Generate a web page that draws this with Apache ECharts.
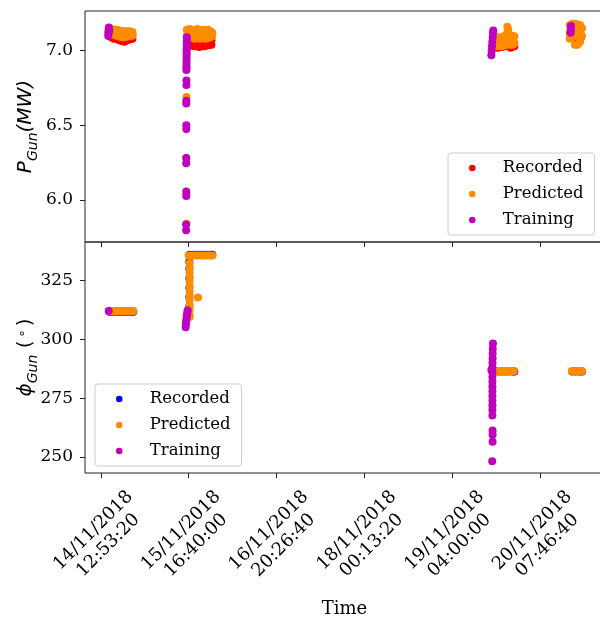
<!DOCTYPE html>
<html>
<head>
<meta charset="utf-8">
<script src="https://cdn.jsdelivr.net/npm/echarts@6/dist/echarts.min.js"></script>
<style>html,body{margin:0;padding:0;background:#fff}#c{width:600px;height:617px}</style>
</head>
<body>
<div id="c"></div>
<script>
// Time axis: kiloseconds after 14/11/2018 12:53:20 (UTC)
const xTickValues = [0, 100, 200, 300, 400, 500];
const xTickLabels = ['14/11/2018\n12:53:20', '15/11/2018\n16:40:00', '16/11/2018\n20:26:40',
                     '18/11/2018\n00:13:20', '19/11/2018\n04:00:00', '20/11/2018\n07:46:40'];
const pTickValues = [6.0, 6.5, 7.0];
const phiTickValues = [250, 275, 300, 325];
const seriesNames = ['Recorded', 'Predicted', 'Training'];

// P_Gun (MW) : [time ks, value]
const pRecorded = [
  [9,7.10],[9,7.13],[12,7.09],[12,7.12],[15,7.08],[15,7.11],[18,7.08],[18,7.12],[21,7.07],[21,7.10],
  [24,7.065],[24,7.10],[27,7.06],[27,7.10],[30,7.07],[30,7.10],[33,7.075],[33,7.11],[36,7.08],[36,7.11],
  [100,7.04],[100,7.07],[103,7.035],[103,7.07],[106,7.03],[106,7.06],[109,7.03],[109,7.07],[112,7.025],[112,7.06],
  [115,7.03],[115,7.065],[118,7.03],[118,7.07],[121,7.035],[121,7.07],[124,7.04],[124,7.075],[126,7.04],[126,7.07],
  [447,7.03],[452,7.02],[457,7.025],[462,7.03],[467,7.02],[471,7.03],[449,7.06],[455,7.06],[460,7.055],[465,7.06],[470,7.06],
  [536,7.10],[540,7.08],[544,7.10],[547,7.09]
];
const pPredicted = [
  [9,7.12],[9,7.145],[12,7.11],[12,7.13],[12,7.145],[15,7.105],[15,7.12],[15,7.14],[18,7.10],[18,7.12],[18,7.14],
  [21,7.095],[21,7.115],[21,7.135],[24,7.09],[24,7.11],[24,7.13],[27,7.09],[27,7.11],[27,7.13],[30,7.095],[30,7.11],[30,7.13],
  [33,7.10],[33,7.115],[33,7.13],[36,7.10],[36,7.125],
  [98,7.10],[98,7.14],[101,7.085],[101,7.115],[101,7.145],[104,7.09],[104,7.115],[104,7.14],[107,7.08],[107,7.11],[107,7.13],
  [110,7.085],[110,7.115],[110,7.145],[113,7.08],[113,7.11],[113,7.13],[116,7.085],[116,7.11],[116,7.14],[119,7.08],[119,7.11],[119,7.135],
  [122,7.085],[122,7.11],[122,7.14],[125,7.09],[125,7.11],[125,7.13],[127,7.10],[127,7.12],
  [97.6,5.84],[97.7,6.04],[97.5,6.28],[97.7,6.69],[97.5,6.88],
  [448,7.04],[448,7.09],[452,7.03],[452,7.06],[452,7.09],[456,7.03],[456,7.06],[456,7.09],[460,7.035],[460,7.07],[460,7.10],
  [463,7.12],[463,7.16],[464,7.14],[466,7.04],[466,7.07],[466,7.10],[469,7.04],[469,7.07],[469,7.10],[471,7.05],[471,7.095],
  [534,7.08],[534,7.12],[534,7.17],[537,7.09],[537,7.13],[537,7.18],[540,7.04],[540,7.10],[540,7.14],[540,7.18],
  [543,7.04],[543,7.11],[543,7.145],[543,7.175],[546,7.06],[546,7.12],[546,7.17],[548,7.10],[548,7.15]
];
const pTraining = [
  [8.5,7.10],[8.7,7.12],[9,7.14],[9.2,7.155],[9.5,7.13],
  [98.0,7.09],[98.0,7.07],[97.9,7.05],[97.9,7.03],[97.8,7.01],[97.8,6.99],[97.7,6.97],[97.7,6.95],[97.6,6.93],[97.6,6.91],[97.6,6.89],[97.5,6.87],
  [97.5,6.80],[97.5,6.77],[97.4,6.665],[97.4,6.645],[97.4,6.50],[97.4,6.475],[97.3,6.28],[97.3,6.245],[97.3,6.055],[97.3,6.025],
  [97.2,5.835],[97.2,5.795],
  [444.8,6.97],[445.1,7.0],[445.5,7.03],[445.9,7.06],[446.3,7.09],[446.7,7.12],[447.0,7.135],
  [535,7.12],[535.3,7.14],[535.5,7.165]
];

// phi_Gun (deg) : [time ks, value]
const phiRecorded = [
  [10,311.7],[14,311.7],[18,311.7],[22,311.7],[26,311.7],[30,311.7],[34,311.7],[37,311.7],
  [101,336.0],[105,336.0],[109,336.0],[113,336.0],[117,336.0],[121,336.0],[125,336.0],[127,336.0],
  [100.8,333.0],[100.8,330.0],[100.8,326.0],[100.8,322.0],[100.8,318.0],[100.8,314.0],
  [449,286.3],[453,286.3],[457,286.3],[461,286.3],[465,286.3],[469,286.3],[471,286.3],
  [537,286.3],[541,286.3],[545,286.3],[548,286.3]
];
const phiPredicted = [
  [10,312.1],[13,312.1],[16,312.1],[19,312.1],[22,312.1],[25,312.1],[28,312.1],[31,312.1],[34,312.1],[37,312.1],
  [100,335.7],[103,335.7],[106,335.7],[109,335.7],[112,335.7],[115,335.7],[118,335.7],[121,335.7],[124,335.7],[127,335.7],
  [101.1,332.5],[101.1,330.5],[101.1,328.5],[101.1,326.5],[101.1,324.5],[101.1,322.5],[101.1,320.5],[101.1,318.5],
  [101.1,316.5],[101.1,314.5],[101.1,312.5],[101.1,310.5],[101.1,309.5],
  [110.7,317.8],
  [450,286.6],[453,286.6],[456,286.6],[459,286.6],[462,286.6],[465,286.6],[468,286.6],[470.5,286.6],
  [536.5,286.6],[539,286.6],[542,286.6],[545,286.6],[548,286.6]
];
const phiTraining = [
  [9.0,312.1],
  [96.6,305.2],[96.9,306.5],[97.2,307.5],[97.5,308.5],[97.8,309.5],[98.2,310.5],[98.6,311.5],[98.9,312.3],
  [444.8,287.0],
  [446.6,298.2],[446.4,296.0],[446.3,294.0],[446.2,292.0],[446.1,290.0],[446.0,288.0],[446.0,286.0],[446.0,284.0],
  [446.0,282.0],[446.0,280.0],[446.0,278.0],[446.0,276.0],[446.0,274.0],[446.0,272.0],[446.0,270.0],[446.0,267.6],
  [446.2,261.3],[446.2,259.5],[446.2,256.5],[445.8,248.2]
];

const colorsP = ['#ff0000', '#ff8c00', '#bf00bf'];
const colorsPhi = ['#0000ff', '#ff8c00', '#bf00bf'];

const FONT = 'DejaVu Serif';
const chart = echarts.init(document.getElementById('c'), null, {renderer: 'canvas'});

function xAxisCfg(gridIndex, showLabels) {
  return {
    type: 'value', gridIndex: gridIndex, min: -18.0, max: 573.1,
    axisLine: {show: false, onZero: false}, splitLine: {show: false},
    axisTick: {show: true, length: 5, customValues: xTickValues, lineStyle: {color: '#222', width: 1}},
    axisLabel: {
      show: showLabels, customValues: xTickValues, rotate: 45, align: 'center', verticalAlign: 'middle',
      margin: 65, fontFamily: FONT, fontSize: 18, color: '#000', lineHeight: 21,
      formatter: function (v) { const i = xTickValues.indexOf(Math.round(v)); return i >= 0 ? xTickLabels[i] : ''; }
    },
    name: showLabels ? 'Time' : '', nameLocation: 'middle', nameGap: 127, nameMoveOverlap: false,
    nameTextStyle: {fontFamily: FONT, fontSize: 18, color: '#000'}
  };
}
function yAxisCfg(gridIndex, min, max, ticks, fmt, name, rich) {
  return {
    type: 'value', gridIndex: gridIndex, min: min, max: max,
    axisLine: {show: false, onZero: false}, splitLine: {show: false},
    axisTick: {show: true, length: 5, customValues: ticks, lineStyle: {color: '#222', width: 1}},
    axisLabel: {customValues: ticks, margin: 12, fontFamily: FONT, fontSize: 17, color: '#000', formatter: fmt},
    name: name, nameLocation: 'middle', nameRotate: 90, nameGap: 45, nameMoveOverlap: false,
    nameTextStyle: {rich: rich}
  };
}
const richBase = {
  i: {fontFamily: 'DejaVu Sans', fontStyle: 'italic', fontSize: 20, lineHeight: 24, verticalAlign: 'top', color: '#000'},
  r: {fontFamily: 'DejaVu Sans', fontSize: 20, lineHeight: 24, verticalAlign: 'top', color: '#000'},
  s: {fontFamily: 'DejaVu Sans', fontStyle: 'italic', fontSize: 14, lineHeight: 17, verticalAlign: 'top', padding: [10, 0, 0, 0], color: '#000'},
  u: {fontFamily: 'DejaVu Sans', fontSize: 13, lineHeight: 16, verticalAlign: 'top', padding: [0, 3, 0, 3], color: '#000'}
};

function scatter(name, data, color, xi, yi) {
  return {
    type: 'scatter', name: name, data: data, xAxisIndex: xi, yAxisIndex: yi,
    symbol: 'circle', symbolSize: 8, itemStyle: {color: color, opacity: 1}, silent: true
  };
}
const series = [];
seriesNames.forEach(function (n, k) { series.push(scatter('P|' + n, [pRecorded, pPredicted, pTraining][k], colorsP[k], 0, 0)); });
seriesNames.forEach(function (n, k) { series.push(scatter('F|' + n, [phiRecorded, phiPredicted, phiTraining][k], colorsPhi[k], 1, 1)); });

function legendCfg(prefix, left, top) {
  return {
    orient: 'vertical', left: left, top: top, padding: [6, 11, 6, 21],
    itemWidth: 29, itemHeight: 6.5, itemGap: 8, icon: 'circle',
    data: seriesNames.map(function (n) { return prefix + n; }),
    formatter: function (n) { return '{a|' + n.split('|')[1] + '}'; },
    textStyle: {fontFamily: FONT, fontSize: 16.5, color: '#000', lineHeight: 18,
      rich: {a: {fontFamily: FONT, fontSize: 16.5, color: '#000', lineHeight: 18, padding: [0, 0, 0, 11]}}},
    backgroundColor: 'rgba(255,255,255,0.8)', borderColor: '#cccccc', borderWidth: 1, borderRadius: 3,
    selectedMode: false
  };
}

chart.setOption({
  animation: false,
  grid: [
    {left: 85, top: 11, right: -4, height: 231, show: true, borderColor: '#222', borderWidth: 1,
     backgroundColor: 'transparent', outerBoundsMode: 'none', containLabel: false},
    {left: 85, top: 242, right: -4, height: 231, show: true, borderColor: '#222', borderWidth: 1,
     backgroundColor: 'transparent', outerBoundsMode: 'none', containLabel: false}
  ],
  xAxis: [xAxisCfg(0, false), xAxisCfg(1, true)],
  yAxis: [
    yAxisCfg(0, 5.717, 7.266, pTickValues, function (v) { return v.toFixed(1); }, '{i|P}{s|Gun}{i|(MW)}', richBase),
    yAxisCfg(1, 243.2, 341.4, phiTickValues, function (v) { return String(Math.round(v)); }, '{i|ϕ}{s|Gun}{r| (}{u|∘}{r|)}', richBase)
  ],
  legend: [legendCfg('P|', 448, 153), legendCfg('F|', 95, 384)],
  series: series
});
</script>
</body>
</html>
